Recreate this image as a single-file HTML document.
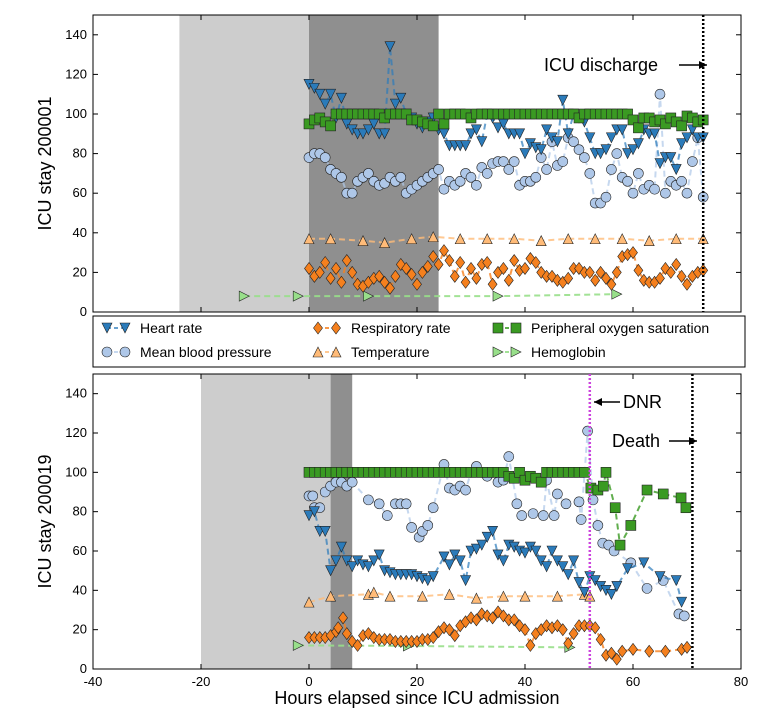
<!DOCTYPE html>
<html><head><meta charset="utf-8"><style>
body{margin:0;background:#fff;}
svg{display:block;font-family:"Liberation Sans","DejaVu Sans",sans-serif;}
</style></head><body>
<svg id="chart" width="782" height="719" viewBox="0 0 782 719"></svg>
<script>
// ---------- Panel 1 data (ICU stay 200001) ----------
const hrT1 = [0,1,2,3,4,5,6,7,8,9,10,11,12,13,14,15,16,17,18,19,20,21,22,23,24,25,26,27,28,29,30,31,32,33,34,35,36,37,38,39,40,41,42,43,44,45,46,47,48,49,50,51,52,53,54,55,56,57,58,59,60,61,62,63,64,65,66,67,68,69,70,71,72,73];
const hrV1 = [115,113,110,105,110,98,108,95,92,90,90,92,95,90,90,134,105,108,100,98,95,93,96,98,92,90,84,84,84,84,90,92,86,100,98,93,95,90,90,90,80,85,83,82,92,88,86,107,90,100,98,96,88,80,80,82,88,92,92,80,82,85,92,90,90,75,78,78,72,85,88,92,88,88];
const mbpT1 = hrT1;
const mbpV1 = [78,80,80,78,72,70,68,60,60,66,68,70,66,64,65,68,66,68,60,62,64,66,68,70,72,62,66,64,66,70,68,64,73,70,75,76,76,72,76,64,66,66,68,78,72,86,74,76,88,86,82,78,70,55,55,58,72,80,68,66,60,70,62,64,62,110,60,66,64,66,60,76,88,58];
const rrT1 = hrT1;
const rrV1 = [22,18,20,25,17,22,15,26,20,14,13,15,17,18,15,12,18,24,22,19,14,20,23,28,24,31,26,18,25,15,22,17,24,25,14,20,22,16,26,21,22,27,25,20,18,18,16,15,17,22,22,20,20,16,20,17,14,20,28,29,30,21,16,15,15,17,22,20,24,18,14,18,20,21];
const tmpT1 = [0,4,10,14,19,23,28,33,38,43,48,53,58,63,68,73];
const tmpV1 = [37,37,36,35,37,38,37,37,37,36,37,37,37,36,37,37];
const spoT1 = hrT1;
const spoV1 = [95,97,98,96,94,100,100,100,100,100,100,100,100,100,98,100,100,100,100,97,97,96,95,94,100,95,100,100,100,100,98,100,100,100,100,100,100,100,100,100,100,100,100,100,100,100,100,100,100,100,98,100,100,100,100,100,100,100,100,100,97,93,98,98,96,97,95,98,96,94,99,98,96,97];
const hgbT1 = [-12,-2,11,35,57];
const hgbV1 = [8,8,8,8,9];
// ---------- Panel 2 data (ICU stay 200019) ----------
const hrT2 = [0,1,2,3,4,5,6,7,8,9,10,11,12,13,14,15,16,17,18,19,20,21,22,23,25,26,27,28,29,30,31,32,33,34,35,36,37,38,39,40,41,42,43,44,45,46,47,48,49,50,51,52,53,54,55,56,57,59,62,65,68,69];
const hrV2 = [78,80,70,70,50,55,62,55,52,55,53,52,55,58,50,49,48,48,48,48,47,46,45,47,57,53,58,55,45,60,61,63,67,70,58,55,63,62,60,59,62,60,55,52,60,55,52,48,55,44,39,47,45,42,40,38,42,51,54,47,45,34];
const mbpT2 = [0,0.7,1,2,3,4,5,6,7,8,11,13,14.5,16,17,18,19,20.4,21,22,23,25,26,27,28,29,30,31,32,33,34,35,36,37,38.5,39.4,41.5,43.4,44,45.4,46,47.6,50,50.4,51.6,52.6,53.5,54.4,55.5,56.5,59.6,62.6,65.6,68.5,69.5];
const mbpV2 = [88,88,82,82,90,93,95,95,93,95,86,84,78,84,84,84,72,67,70,73,82,104,92,91,93,91,100,103,100,98,100,95,96,108,84,78,79,78,96,78,89,84,85,76,121,86,73,64,63,60,54,41,45,28,27];
const rrT2 = [0,1,2,3,4,5,5.4,6.3,7,8,9,10,11,12,13,14,15,16,17,18,19,20,21,22,23,24,25,26,27,28,29,30,31,32,33,34,35,36,37,38,39,40,41,42,43,44,45,46,47,48,49,50,51,52,53,54,55,56,57,58,60,63,66,69,70];
const rrV2 = [16,16,16,16,17,19,21,26,18,14,12,17,18,16,15,15,15,14,14,14,14,14,15,15,16,19,21,20,17,22,24,26,25,28,27,26,29,27,25,25,22,20,12,18,20,22,21,22,20,13,18,22,22,22,21,15,7,8,5,9,10,9,9,10,11];
const tmpT2 = [0,4,11,12,15,21,26,31,36,40,46,51,52];
const tmpV2 = [34,37,38,39,37,37,38,36,37,37,37,38,37];
const spoT2 = [0,1,2,3,4,5,6,7,8,9,10,11,12,13,14,15,16,17,18,19,20,21,22,23,24,25,26,27,28,29,30,31,32,33,34,35,36,37,38,39,40,41,42,43,44,45,46,47,48,49,50,51,52.2,53.5,54.5,55,56.7,57.6,59.6,62.6,65.6,68.9,69.8];
const spoV2 = [100,100,100,100,100,100,100,100,100,100,100,100,100,100,100,100,100,100,100,100,100,100,100,100,100,100,100,100,100,100,100,100,100,100,100,100,100,98,97,100,96,98,97,95,100,100,100,100,100,100,100,100,92,91,93,100,82,63,73,91,89,87,82];
const hgbT2 = [-2,18.4,48.3];
const hgbV2 = [12,11.7,11];
// ---------- axis ticks ----------
const xTicks = [-40,-20,0,20,40,60,80];
const yTicks = [0,20,40,60,80,100,120,140];

const NS="http://www.w3.org/2000/svg";
const svg=document.getElementById('chart');
function mk(tag,attrs,parent){const e=document.createElementNS(NS,tag);for(const k in attrs)e.setAttribute(k,attrs[k]);(parent||svg).appendChild(e);return e;}
const X0=93,X1=741;
function xs(t){return X0+(t+40)/120*(X1-X0);}
const panels=[{top:15,bot:312,label:'ICU stay 200001'},{top:374,bot:669,label:'ICU stay 200019'}];
function ysf(p){return v=>p.bot-v/150*(p.bot-p.top);}

function marker(type,x,y,fill,g){
  const s=5;let e;
  if(type==='tdown') e=mk('polygon',{points:`${x-s},${y-s} ${x+s},${y-s} ${x},${y+s}`},g);
  else if(type==='tup') e=mk('polygon',{points:`${x-s},${y+s} ${x+s},${y+s} ${x},${y-s}`},g);
  else if(type==='tright') e=mk('polygon',{points:`${x-s},${y-s} ${x-s},${y+s} ${x+s},${y}`},g);
  else if(type==='diamond') e=mk('polygon',{points:`${x},${y-6} ${x+4.5},${y} ${x},${y+6} ${x-4.5},${y}`},g);
  else if(type==='square') e=mk('rect',{x:x-5,y:y-5,width:10,height:10},g);
  else e=mk('circle',{cx:x,cy:y,r:5},g);
  e.setAttribute('fill',fill);e.setAttribute('stroke','#222');e.setAttribute('stroke-width','0.6');
  return e;
}
function series(name,ts,vs,type,fill,lineCol,ys,g){
  const sg=mk('g',{},g);
  
  
  const pts=ts.map((t,i)=>xs(t)+','+ys(vs[i])).join(' ');
  const pl=mk('polyline',{points:pts,fill:'none',stroke:lineCol,'stroke-width':2,'stroke-dasharray':'6,4'},sg);
  
  
  ts.forEach((t,i)=>{const m=marker(type,xs(t),ys(vs[i]),fill,sg);
    
    });
}
const C={hr:'#2b7bba',mbp:'#aec7e8',rr:'#f5801e',tmp:'#ffbb78',spo:'#3a9a22',hgb:'#98df8a'};
const L={hr:'rgba(43,123,186,0.7)',mbp:'rgba(174,199,232,0.7)',rr:'rgba(245,128,30,0.8)',tmp:'rgba(255,187,120,0.8)',spo:'rgba(58,154,34,0.8)',hgb:'rgba(152,223,138,0.9)'};

const shades=[[[-24,0,'#cdcdcd'],[0,24,'#8f8f8f']],[[-20,4,'#cdcdcd'],[4,8,'#8f8f8f']]];
const data=[
 {hr:[hrT1,hrV1],mbp:[mbpT1,mbpV1],rr:[rrT1,rrV1],tmp:[tmpT1,tmpV1],spo:[spoT1,spoV1],hgb:[hgbT1,hgbV1]},
 {hr:[hrT2,hrV2],mbp:[mbpT2,mbpV2],rr:[rrT2,rrV2],tmp:[tmpT2,tmpV2],spo:[spoT2,spoV2],hgb:[hgbT2,hgbV2]}];
panels.forEach((p,pi)=>{
  const ys=ysf(p);
  const g=mk('g',{});
  
  
  shades[pi].forEach(s=>{const r=mk('rect',{x:xs(s[0]),y:p.top,width:xs(s[1])-xs(s[0]),height:p.bot-p.top,fill:s[2]},g);
    });
  const d=data[pi];
  series('hemoglobin',d.hgb[0],d.hgb[1],'tright',C.hgb,L.hgb,ys,g);
  series('mean-blood-pressure',d.mbp[0],d.mbp[1],'circle',C.mbp,L.mbp,ys,g);
  series('temperature',d.tmp[0],d.tmp[1],'tup',C.tmp,L.tmp,ys,g);
  series('respiratory-rate',d.rr[0],d.rr[1],'diamond',C.rr,L.rr,ys,g);
  series('heart-rate',d.hr[0],d.hr[1],'tdown',C.hr,L.hr,ys,g);
  series('oxygen-saturation',d.spo[0],d.spo[1],'square',C.spo,L.spo,ys,g);
  const fr=mk('rect',{x:X0,y:p.top,width:X1-X0,height:p.bot-p.top,fill:'none',stroke:'#000','stroke-width':1},g);
  
  yTicks.forEach(v=>{const y=ys(v);
    mk('line',{x1:X0,x2:X0+5,y1:y,y2:y,stroke:'#000'},g);mk('line',{x1:X1-5,x2:X1,y1:y,y2:y,stroke:'#000'},g);
    const t=mk('text',{x:X0-6,y:y+4,'text-anchor':'end','font-size':13},g);t.textContent=v;
    });
  xTicks.forEach(v=>{const x=xs(v);
    mk('line',{x1:x,x2:x,y1:p.bot,y2:p.bot-5,stroke:'#000'},g);mk('line',{x1:x,x2:x,y1:p.top,y2:p.top+5,stroke:'#000'},g);
    if(pi===1){const t=mk('text',{x:x,y:p.bot+17,'text-anchor':'middle','font-size':13},g);t.textContent=v;
      }});
  const yl=mk('text',{x:0,y:0,transform:`translate(51,${(p.top+p.bot)/2}) rotate(-90)`,'text-anchor':'middle','font-size':18},g);
  yl.textContent=p.label;
});
function vline(t,p,col,name){const l=mk('line',{x1:xs(t),x2:xs(t),y1:p.top,y2:p.bot,stroke:col,'stroke-width':2.5,'stroke-dasharray':'2,2'});
  }
vline(73,panels[0],'#000','discharge-line');
vline(52,panels[1],'#cc44dd','dnr-line');
vline(71,panels[1],'#000','death-line');
function arrow(x1,x2,y){mk('line',{x1:x1,x2:x2,y1:y,y2:y,stroke:'#000','stroke-width':1.5});
  const d=x2>x1?1:-1;mk('polygon',{points:`${x2},${y} ${x2-8*d},${y-4} ${x2-8*d},${y+4}`,fill:'#000'});}
function label(txt,x,y,name){const t=mk('text',{x:x,y:y,'font-size':18});t.textContent=txt;}
label('ICU discharge',544,71,'discharge-annotation');arrow(679,707,65);
label('DNR',623,408,'dnr-annotation');arrow(620,594,402);
label('Death',612,447,'death-annotation');arrow(669,697,441);
const xl=mk('text',{x:417,y:704,'text-anchor':'middle','font-size':18});xl.textContent='Hours elapsed since ICU admission';

const lg=mk('g',{});


mk('rect',{x:93,y:316,width:652,height:51,fill:'#fff',stroke:'#000','stroke-width':1},lg);
const items=[['Heart rate','tdown','hr',107,328],['Mean blood pressure','circle','mbp',107,352],['Respiratory rate','diamond','rr',318,328],['Temperature','tup','tmp',318,352],['Peripheral oxygen saturation','square','spo',498,328],['Hemoglobin','tright','hgb',498,352]];
items.forEach(it=>{const g=mk('g',{},lg);
  
  
  mk('line',{x1:it[3],x2:it[3]+18,y1:it[4],y2:it[4],stroke:L[it[2]],'stroke-width':2,'stroke-dasharray':'4,3'},g);
  marker(it[1],it[3],it[4],C[it[2]],g);marker(it[1],it[3]+18,it[4],C[it[2]],g);
  const t=mk('text',{x:it[3]+33,y:it[4]+5,'font-size':14},g);t.textContent=it[0];});
</script>
</body></html>
